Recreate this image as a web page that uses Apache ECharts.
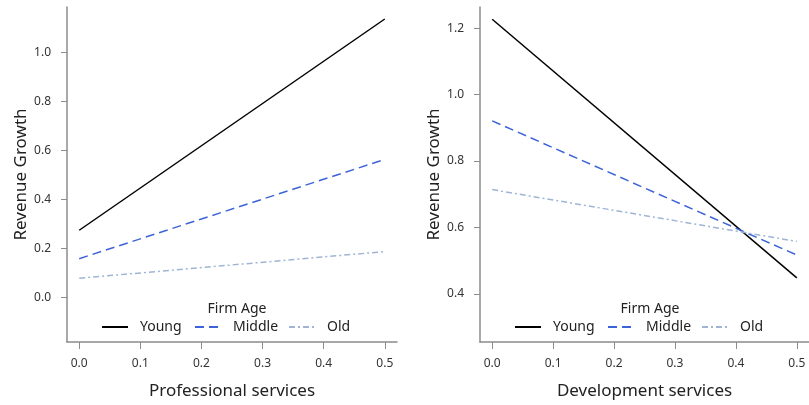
<!DOCTYPE html>
<html>
<head>
<meta charset="utf-8">
<script src="https://cdn.jsdelivr.net/npm/echarts@6/dist/echarts.min.js"></script>
<style>
  html, body { margin: 0; padding: 0; background: #fff; }
  #chart { width: 809px; height: 405px; }
</style>
</head>
<body>
<div id="chart"></div>
<script>
// Predicted revenue growth by firm age, at the two ends of each services share
const xPoints = [0, 0.5];
const xTicks = [0, 0.1, 0.2, 0.3, 0.4, 0.5];

const profYoung = [0.273, 1.135];
const profMiddle = [0.157, 0.562];
const profOld = [0.077, 0.186];
const profYTicks = [0, 0.2, 0.4, 0.6, 0.8, 1.0];

const devYoung = [1.227, 0.448];
const devMiddle = [0.921, 0.517];
const devOld = [0.714, 0.558];
const devYTicks = [0.4, 0.6, 0.8, 1.0, 1.2];

const groups = ['Young', 'Middle', 'Old'];
const FONT = 'Noto Sans';

const lineStyles = {
  Young: { color: '#000000', width: 1.5, type: 'solid' },
  Middle: { color: '#3d63d8', width: 1.5, type: [9, 5] },
  Old: { color: '#a0b5d4', width: 1.5, type: [6, 3, 2, 3] }
};

function pairs(ys) { return xPoints.map((x, i) => [x, ys[i]]); }

function xAxis(gridIndex, name) {
  return {
    type: 'value', gridIndex, min: -0.02, max: 0.52,
    name, nameLocation: 'middle', nameGap: 41,
    nameTextStyle: { fontFamily: FONT, fontSize: 17, color: '#222' },
    axisLine: { show: true, onZero: false, lineStyle: { color: '#8c8c8c', width: 1.5 } },
    axisTick: { show: true, length: 7, customValues: xTicks, lineStyle: { color: '#8c8c8c' } },
    axisLabel: { customValues: xTicks, margin: 16, fontFamily: FONT, fontSize: 12, color: '#333',
      formatter: v => v.toFixed(1) },
    splitLine: { show: false }
  };
}

function yAxis(gridIndex, min, max, ticks) {
  return {
    type: 'value', gridIndex, min, max,
    name: 'Revenue Growth', nameLocation: 'middle', nameGap: 36,
    nameTextStyle: { fontFamily: FONT, fontSize: 17, color: '#222' },
    axisLine: { show: true, onZero: false, lineStyle: { color: '#8c8c8c', width: 1.5 } },
    axisTick: { show: true, length: 6, customValues: ticks, lineStyle: { color: '#8c8c8c' } },
    axisLabel: { customValues: ticks, margin: 16, fontFamily: FONT, fontSize: 12, color: '#333',
      formatter: v => v.toFixed(1) },
    splitLine: { show: false }
  };
}

function series(name, idx, ys) {
  return {
    type: 'line', name, xAxisIndex: idx, yAxisIndex: idx,
    data: pairs(ys), showSymbol: false, symbol: 'none', silent: true,
    lineStyle: lineStyles[name], itemStyle: { color: lineStyles[name].color }
  };
}

// one legend entry per item so each can sit where it belongs in its panel
const legendSpots = [
  [101, 194, 288],
  [514, 607, 701]
];
const legends = [];
legendSpots.forEach(spots => {
  groups.forEach((g, i) => {
    legends.push({
      show: true,
      left: spots[i], top: 320, orient: 'horizontal', padding: 0,
      data: [g],
      itemWidth: 26, itemHeight: 14, selectedMode: false,
      itemStyle: { opacity: 0 },
      textStyle: { fontFamily: FONT, fontSize: 14, color: '#222', padding: [0, 0, 0, 7] }
    });
  });
});

const option = {
  animation: false,
  backgroundColor: '#fff',
  title: [
    { text: 'Firm Age', left: 232, top: 297, textAlign: 'center',
      textStyle: { fontFamily: FONT, fontSize: 14, fontWeight: 'normal', color: '#222' } },
    { text: 'Firm Age', left: 645, top: 297, textAlign: 'center',
      textStyle: { fontFamily: FONT, fontSize: 14, fontWeight: 'normal', color: '#222' } }
  ],
  legend: legends,
  grid: [
    { left: 67, top: 7, width: 330, height: 336 },
    { left: 480, top: 7, width: 329, height: 336 }
  ],
  xAxis: [xAxis(0, 'Professional services'), xAxis(1, 'Development services')],
  yAxis: [yAxis(0, -0.183, 1.184, profYTicks), yAxis(1, 0.255, 1.264, devYTicks)],
  series: [
    series('Young', 0, profYoung), series('Middle', 0, profMiddle), series('Old', 0, profOld),
    series('Young', 1, devYoung), series('Middle', 1, devMiddle), series('Old', 1, devOld)
  ]
};

const chart = echarts.init(document.getElementById('chart'), null, { renderer: 'canvas' });
chart.setOption(option);
</script>
</body>
</html>
